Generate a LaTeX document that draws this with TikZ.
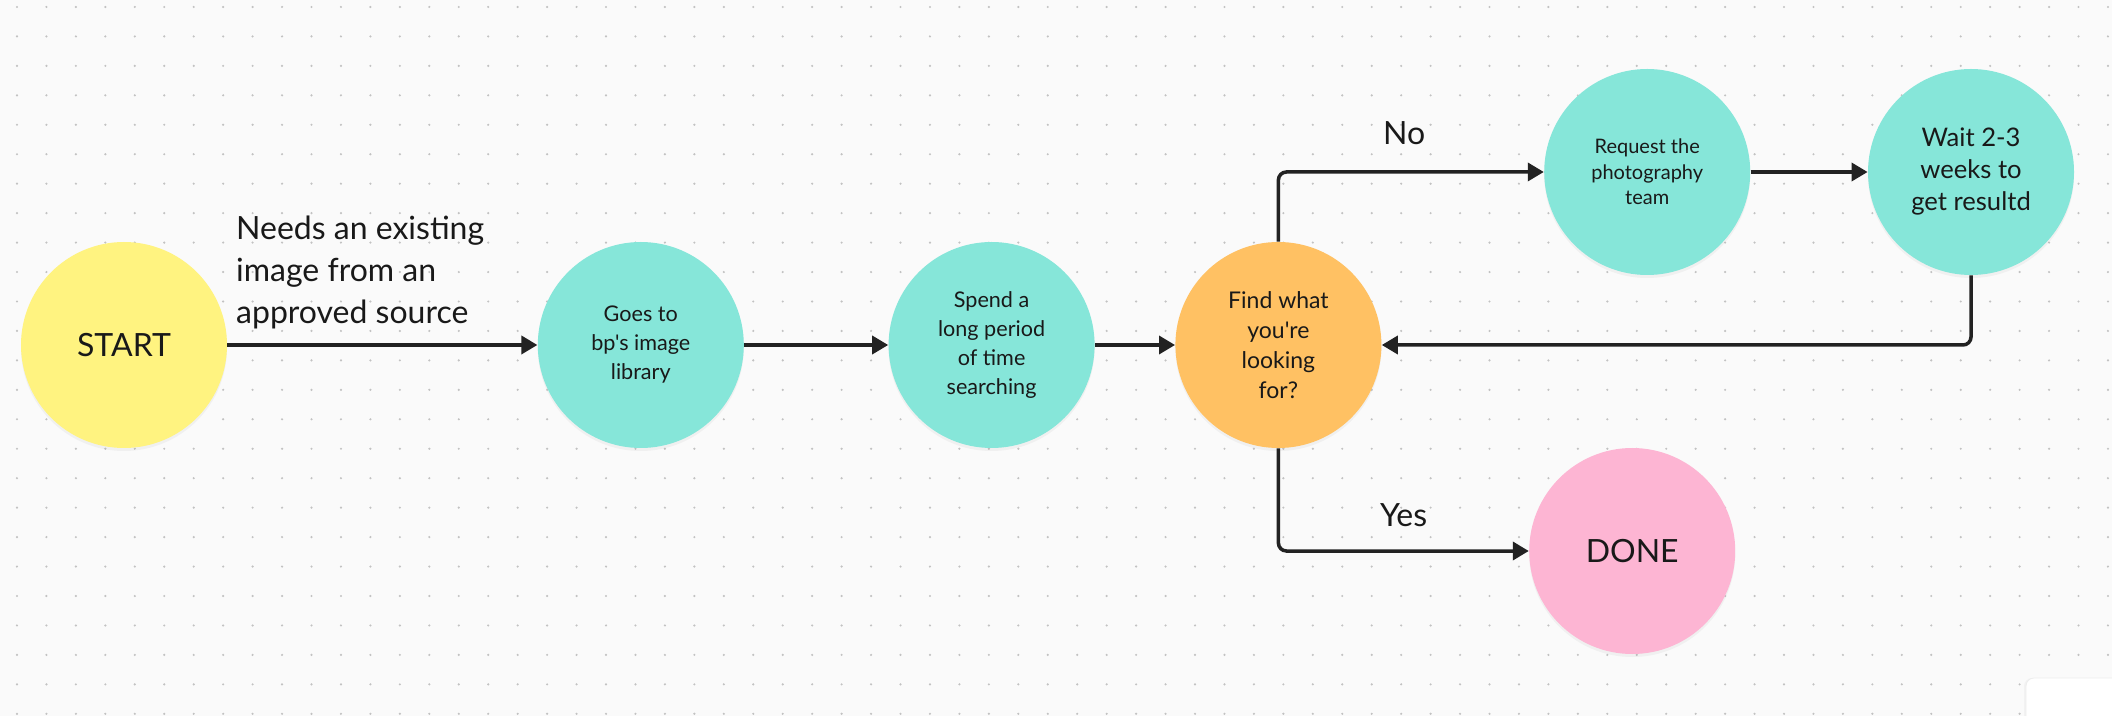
\documentclass[tikz,border=0pt]{standalone}
\usepackage{fontspec}
\setmainfont{Lato}[Ligatures=TeXOff]
\usetikzlibrary{arrows.meta,positioning,shadows}

\definecolor{bgc}{HTML}{FAFAFA}
\definecolor{dotc}{HTML}{C2C2C2}
\definecolor{inkc}{HTML}{222222}
\definecolor{yelc}{HTML}{FFF380}
\definecolor{tealc}{HTML}{86E6D9}
\definecolor{orac}{HTML}{FFC163}
\definecolor{pinkc}{HTML}{FDB5D3}

\begin{document}
\begin{tikzpicture}[
  font=\fontsize{10.8}{14.5}\selectfont,
  bub/.style={circle, minimum size=103pt, inner sep=0pt, align=center, text=black!90,
              drop shadow={opacity=.08, shadow xshift=0pt, shadow yshift=-1.5pt}},
  ar/.style={-{Triangle[length=8pt,width=9pt]}, line width=1.75pt, draw=inkc},
  lbl/.style={inner sep=0pt, text=black!90, font=\fontsize{16}{21}\selectfont},
]
% canvas with dot grid
\useasboundingbox (-62pt,-185.5pt) rectangle (994pt,172.5pt);
\fill[bgc] (-62pt,-185.5pt) rectangle (994pt,172.5pt);
\foreach \i in {0,...,71}
  \foreach \j in {0,...,24}
    \fill[dotc] (-53.5pt+\i*14.725pt, 169pt-\j*14.725pt) circle (.6pt);
\fill[white, draw=black!7, rounded corners=4pt,
      drop shadow={opacity=.06, shadow xshift=-1pt, shadow yshift=0pt}]
  (951pt,-166.5pt) rectangle (1010pt,-200pt);

% main row
\node[bub, fill=yelc, font=\fontsize{16}{20}\selectfont] (start) {START};
\node[bub, fill=tealc, right=155pt of start] (lib) {Goes to\\bp's image\\library};
\node[bub, fill=tealc, right=72pt of lib] (srch) {Spend a\\long period\\of time\\searching};
\node[bub, fill=orac, right=40pt of srch, font=\fontsize{11.5}{15}\selectfont] (find)
  {Find what\\you're\\looking\\for?};

% branches
\node[bub, fill=tealc, right=81pt of find, yshift=86.5pt, font=\fontsize{10}{12.75}\selectfont] (req)
  {Request the\\photography\\team};
\node[bub, fill=tealc, right=58.5pt of req, font=\fontsize{12.8}{16}\selectfont] (wait)
  {Wait 2-3\\weeks to\\get resultd};
\node[bub, fill=pinkc, right=73.5pt of find, yshift=-103pt, font=\fontsize{16}{20}\selectfont] (done) {DONE};

\draw[ar] (start) -- node[lbl, pos=0, anchor=south west, align=left, xshift=3.5pt, yshift=7.2pt] (need)
  {Needs an existing\\image from an\\approved source} (lib);
\draw[ar] (lib) -- (srch);
\draw[ar] (srch) -- (find);
\draw[ar, rounded corners=4pt] (find.north) |- node[lbl, pos=.75, anchor=base, xshift=-3.5pt, yshift=13.5pt] (no) {No} (req.west);
\draw[ar] (req) -- (wait);
\draw[ar, rounded corners=4pt] (wait.south) |- (find.east);
\draw[ar, rounded corners=4pt] (find.south) |- node[lbl, pos=.75, anchor=base, yshift=12pt] (yes) {Yes} (done.west);
\end{tikzpicture}
\end{document}
